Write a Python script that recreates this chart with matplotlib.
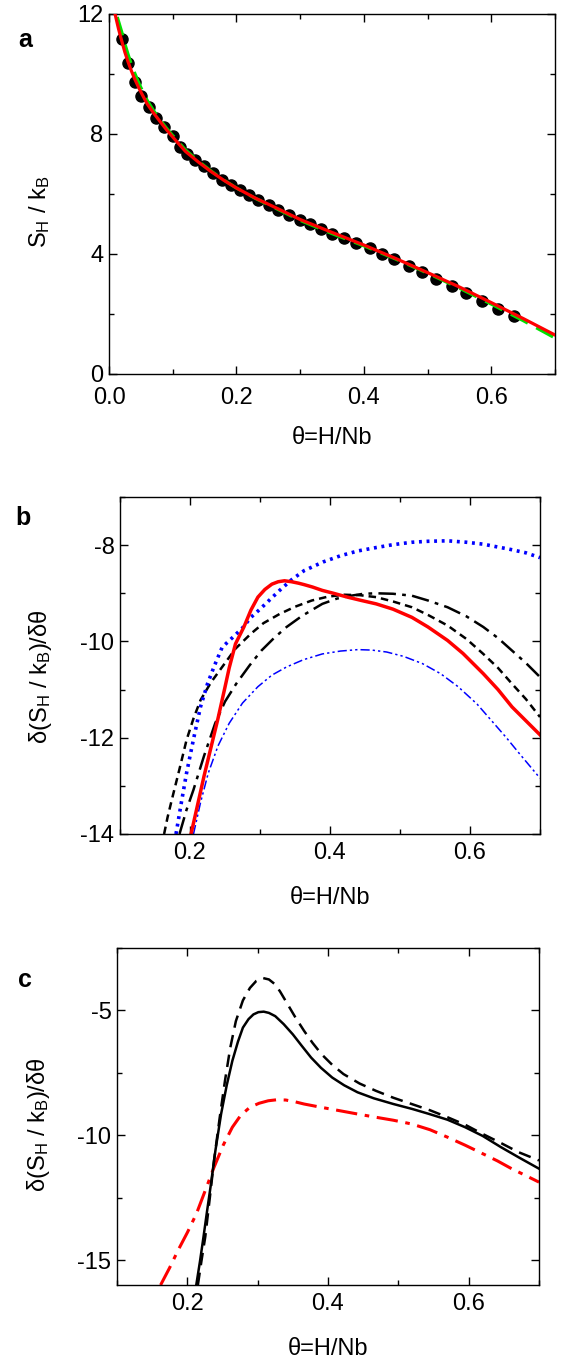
import matplotlib
matplotlib.use("Agg")
import matplotlib.pyplot as plt
from matplotlib.ticker import MultipleLocator

plt.rcParams['font.family'] = ['Liberation Sans', 'DejaVu Sans']
plt.rcParams['mathtext.default'] = 'regular'

# ---------------- Panel a data ----------------
a_dots_x = [0.020, 0.030, 0.041, 0.050, 0.063, 0.074, 0.086, 0.100, 0.111, 0.122,
            0.135, 0.149, 0.163, 0.177, 0.191, 0.205, 0.220, 0.234, 0.251, 0.266,
            0.282, 0.299, 0.316, 0.332, 0.350, 0.369, 0.388, 0.409, 0.429, 0.448,
            0.471, 0.492, 0.513, 0.538, 0.561, 0.586, 0.611, 0.636]
a_dots_y = [11.16, 10.36, 9.75, 9.27, 8.91, 8.53, 8.25, 7.92, 7.58, 7.34,
            7.14, 6.92, 6.70, 6.47, 6.31, 6.14, 5.97, 5.80, 5.62, 5.47,
            5.31, 5.15, 4.99, 4.85, 4.68, 4.52, 4.37, 4.19, 4.00, 3.82,
            3.60, 3.40, 3.18, 2.94, 2.70, 2.45, 2.18, 1.95]

a_red_x = [0.0095, 0.015, 0.02, 0.025, 0.03, 0.035, 0.04, 0.045, 0.05, 0.06, 0.07, 0.08,
           0.09, 0.10, 0.12, 0.14, 0.16, 0.18, 0.20, 0.23, 0.26, 0.30, 0.35, 0.40, 0.45,
           0.50, 0.55, 0.60, 0.65, 0.70]
a_red_y = [12.0, 11.5, 11.1, 10.72, 10.4, 10.11, 9.85, 9.62, 9.4, 9.0, 8.7, 8.42,
           8.15, 7.9, 7.42, 7.07, 6.75, 6.46, 6.2, 5.86, 5.56, 5.15, 4.72, 4.3, 3.85,
           3.38, 2.9, 2.38, 1.85, 1.3]

a_green_x = [0.013, 0.02, 0.025, 0.03, 0.035, 0.04, 0.045, 0.05, 0.06, 0.07, 0.08, 0.09,
             0.10, 0.12, 0.14, 0.16, 0.18, 0.20, 0.23, 0.26, 0.30, 0.35, 0.40, 0.45, 0.50,
             0.55, 0.60, 0.65, 0.70]
a_green_y = [11.9, 11.4, 11.0, 10.65, 10.33, 10.05, 9.79, 9.55, 9.12, 8.78, 8.48, 8.2,
             7.95, 7.47, 7.1, 6.77, 6.47, 6.2, 5.85, 5.54, 5.12, 4.68, 4.27, 3.83, 3.36,
             2.86, 2.33, 1.78, 1.2]

# ---------------- Panel b data ----------------
b_red_x = [0.2015, 0.21, 0.22, 0.23, 0.24, 0.25, 0.256, 0.265, 0.277, 0.287, 0.297, 0.307,
           0.317, 0.326, 0.335, 0.345, 0.355, 0.363, 0.375, 0.389, 0.405, 0.425, 0.445,
           0.466, 0.49, 0.517, 0.54, 0.568, 0.59, 0.619, 0.64, 0.66, 0.68, 0.70]
b_red_y = [-14.0, -13.45, -12.8, -12.2, -11.6, -10.95, -10.55, -10.05, -9.70, -9.35, -9.08,
           -8.92, -8.81, -8.76, -8.74, -8.76, -8.79, -8.82, -8.87, -8.94, -9.0, -9.08, -9.15,
           -9.22, -9.33, -9.50, -9.70, -9.98, -10.25, -10.67, -11.0, -11.36, -11.65, -11.94]

b_bluedot_x = [0.18, 0.187, 0.195, 0.205, 0.215, 0.225, 0.235, 0.246, 0.26, 0.275, 0.287,
               0.30, 0.315, 0.328, 0.345, 0.363, 0.39, 0.415, 0.44, 0.466, 0.49, 0.517,
               0.54, 0.568, 0.595, 0.619, 0.64, 0.655, 0.68, 0.70]
b_bluedot_y = [-14.0, -13.4, -12.74, -12.03, -11.36, -10.88, -10.5, -10.12, -9.93, -9.72,
               -9.5, -9.33, -9.12, -8.94, -8.72, -8.53, -8.35, -8.22, -8.12, -8.05, -7.99,
               -7.94, -7.92, -7.91, -7.94, -7.98, -8.04, -8.08, -8.16, -8.26]

b_kdash_x = [0.163, 0.168, 0.174, 0.185, 0.195, 0.205, 0.215, 0.23, 0.246, 0.265, 0.287,
             0.305, 0.328, 0.35, 0.374, 0.397, 0.420, 0.443, 0.466, 0.49, 0.517, 0.54,
             0.568, 0.595, 0.619, 0.64, 0.660, 0.68, 0.700]
b_kdash_y = [-14.0, -13.65, -13.29, -12.65, -12.05, -11.6, -11.22, -10.85, -10.53, -10.15,
             -9.84, -9.62, -9.43, -9.28, -9.15, -9.07, -9.03, -9.04, -9.08, -9.17, -9.29,
             -9.45, -9.67, -9.95, -10.26, -10.55, -10.88, -11.2, -11.57]

b_kdashdot_x = [0.185, 0.195, 0.205, 0.22, 0.236, 0.25, 0.266, 0.285, 0.302, 0.32, 0.338,
                0.36, 0.389, 0.41, 0.430, 0.448, 0.466, 0.49, 0.517, 0.54, 0.568, 0.595,
                0.619, 0.64, 0.660, 0.68, 0.700]
b_kdashdot_y = [-14.0, -13.5, -13.08, -12.38, -11.70, -11.25, -10.88, -10.5, -10.19, -9.93,
                -9.70, -9.47, -9.22, -9.11, -9.05, -9.01, -9.00, -9.01, -9.05, -9.15, -9.29,
                -9.48, -9.70, -9.93, -10.19, -10.45, -10.74]

b_bluedd_x = [0.205, 0.215, 0.226, 0.24, 0.256, 0.275, 0.297, 0.317, 0.338, 0.362, 0.389,
              0.415, 0.440, 0.46, 0.481, 0.505, 0.532, 0.558, 0.583, 0.61, 0.634, 0.652,
              0.670, 0.685, 0.700]
b_bluedd_y = [-14.0, -13.35, -12.74, -12.17, -11.70, -11.28, -10.94, -10.7, -10.53, -10.38,
              -10.26, -10.2, -10.17, -10.18, -10.22, -10.31, -10.46, -10.67, -10.94, -11.3,
              -11.70, -12.0, -12.32, -12.58, -12.84]

# ---------------- Panel c data ----------------
c_solid_x = [0.2127, 0.218, 0.223, 0.228, 0.233, 0.24, 0.248, 0.256, 0.264, 0.272, 0.279,
             0.287, 0.294, 0.301, 0.3086, 0.316, 0.325, 0.337, 0.350, 0.363, 0.376, 0.39,
             0.406, 0.423, 0.442, 0.465, 0.493, 0.52, 0.544, 0.57, 0.595, 0.62, 0.646,
             0.672, 0.700]
c_solid_y = [-16.0, -15.05, -14.07, -13.05, -12.07, -10.6, -9.15, -8.0, -7.02, -6.25, -5.69,
             -5.35, -5.16, -5.07, -5.05, -5.1, -5.23, -5.55, -5.96, -6.43, -6.89, -7.3,
             -7.69, -8.0, -8.28, -8.52, -8.75, -8.95, -9.15, -9.38, -9.68, -10.03, -10.48,
             -10.9, -11.34]

c_dash_x = [0.215, 0.22, 0.2255, 0.232, 0.238, 0.246, 0.2535, 0.261, 0.269, 0.279, 0.289,
            0.298, 0.307, 0.316, 0.325, 0.332, 0.340, 0.353, 0.366, 0.378, 0.391, 0.406,
            0.422, 0.445, 0.468, 0.493, 0.519, 0.545, 0.570, 0.595, 0.620, 0.645, 0.671,
            0.700]
c_dash_y = [-16.0, -15.05, -14.07, -12.5, -11.0, -9.3, -7.82, -6.5, -5.43, -4.6, -4.10,
            -3.82, -3.70, -3.76, -3.96, -4.25, -4.63, -5.25, -5.82, -6.3, -6.76, -7.18,
            -7.55, -7.93, -8.22, -8.5, -8.75, -9.0, -9.28, -9.58, -9.95, -10.3, -10.68,
            -11.01]

c_red_x = [0.162, 0.175, 0.187, 0.2, 0.213, 0.225, 0.238, 0.251, 0.264, 0.276, 0.289,
           0.302, 0.315, 0.327, 0.340, 0.353, 0.366, 0.39, 0.417, 0.442, 0.468, 0.493,
           0.519, 0.545, 0.570, 0.595, 0.620, 0.641, 0.661, 0.68, 0.700]
c_red_y = [-16.0, -15.3, -14.6, -13.9, -13.14, -12.25, -11.28, -10.4, -9.68, -9.2, -8.88,
           -8.72, -8.62, -8.58, -8.59, -8.66, -8.75, -8.88, -9.02, -9.15, -9.28, -9.4,
           -9.55, -9.78, -10.08, -10.4, -10.74, -11.03, -11.34, -11.6, -11.88]

xlabel = "θ=H/Nb"
ylabel_a = "S$_\\mathregular{H}$ / k$_\\mathregular{B}$"
ylabel_bc = "δ(S$_\\mathregular{H}$ / k$_\\mathregular{B}$)/δθ"

FS = 17
W, H = 561, 1362
fig = plt.figure(figsize=(W / 100, H / 100), dpi=100)


def add_ax(l, r, t, b):
    return fig.add_axes([l / W, 1 - b / H, (r - l) / W, (b - t) / H])


def style(ax, xpad=6):
    ax.tick_params(which='both', direction='in', top=True, right=True,
                   labelsize=FS, width=1.0)
    ax.tick_params(which='major', length=6)
    ax.tick_params(which='minor', length=3.5)
    ax.tick_params(axis='x', which='both', pad=xpad)
    ax.tick_params(axis='y', which='both', pad=4)
    for s in ax.spines.values():
        s.set_linewidth(1.0)


# Panel a
axa = add_ax(109, 555, 14, 374)
axa.plot(a_dots_x, a_dots_y, 'o', color='black', markersize=8, zorder=2)
axa.plot(a_green_x, a_green_y, color='#00e000', lw=2.3, dashes=(6, 3), zorder=3)
axa.plot(a_red_x, a_red_y, color='red', lw=2.3, zorder=4)
axa.set_xlim(0, 0.7)
axa.set_ylim(0, 12)
axa.xaxis.set_major_locator(MultipleLocator(0.2))
axa.xaxis.set_minor_locator(MultipleLocator(0.1))
axa.yaxis.set_major_locator(MultipleLocator(4))
axa.yaxis.set_minor_locator(MultipleLocator(2))
axa.xaxis.set_major_formatter(plt.FormatStrFormatter('%.1f'))
style(axa, xpad=9)
axa.set_xlabel(xlabel, fontsize=FS, labelpad=13)
axa.set_ylabel(ylabel_a, fontsize=FS)
axa.yaxis.set_label_coords(-0.128, 0.45)
fig.text(25 / W, 1 - 40 / H, 'a', fontsize=FS + 1, fontweight='bold', ha='center', va='center')

# Panel b
axb = add_ax(120, 540, 497, 834)
axb.plot(b_kdash_x, b_kdash_y, color='black', lw=1.8, dashes=(3, 2))
axb.plot(b_kdashdot_x, b_kdashdot_y, color='black', lw=1.8, dashes=(7, 2.5, 1.5, 2.5))
axb.plot(b_bluedd_x, b_bluedd_y, color='blue', lw=1.1, dashes=(6, 2, 1.5, 2, 1.5, 2))
axb.plot(b_bluedot_x, b_bluedot_y, color='blue', lw=2.6, dashes=(0.8, 1.3))
axb.plot(b_red_x, b_red_y, color='red', lw=2.5)
axb.set_xlim(0.1, 0.7)
axb.set_ylim(-14, -7)
axb.xaxis.set_major_locator(MultipleLocator(0.2))
axb.xaxis.set_minor_locator(MultipleLocator(0.1))
axb.yaxis.set_major_locator(MultipleLocator(2))
axb.yaxis.set_minor_locator(MultipleLocator(1))
axb.xaxis.set_major_formatter(plt.FormatStrFormatter('%.1f'))
axb.yaxis.set_major_formatter(plt.FormatStrFormatter('%d'))
style(axb)
axb.set_xlabel(xlabel, fontsize=FS, labelpad=16)
axb.set_ylabel(ylabel_bc, fontsize=FS)
axb.yaxis.set_label_coords(-0.157, 0.466)
fig.text(23 / W, 1 - 518 / H, 'b', fontsize=FS + 1, fontweight='bold', ha='center', va='center')

# Panel c
axc = add_ax(117, 539, 948, 1285)
axc.plot(c_red_x, c_red_y, color='red', lw=2.2, dashes=(7, 2.5, 1.5, 2.5))
axc.plot(c_dash_x, c_dash_y, color='black', lw=1.8, dashes=(5, 3))
axc.plot(c_solid_x, c_solid_y, color='black', lw=1.8)
axc.set_xlim(0.1, 0.7)
axc.set_ylim(-16, -2.5)
axc.xaxis.set_major_locator(MultipleLocator(0.2))
axc.xaxis.set_minor_locator(MultipleLocator(0.1))
axc.yaxis.set_major_locator(MultipleLocator(5))
axc.yaxis.set_minor_locator(MultipleLocator(2.5))
axc.xaxis.set_major_formatter(plt.FormatStrFormatter('%.1f'))
axc.yaxis.set_major_formatter(plt.FormatStrFormatter('%d'))
style(axc)
axc.set_xlabel(xlabel, fontsize=FS, labelpad=16)
axc.set_ylabel(ylabel_bc, fontsize=FS)
axc.yaxis.set_label_coords(-0.154, 0.475)
fig.text(25 / W, 1 - 980 / H, 'c', fontsize=FS + 1, fontweight='bold', ha='center', va='center')

fig.savefig('out.png', dpi=100)
